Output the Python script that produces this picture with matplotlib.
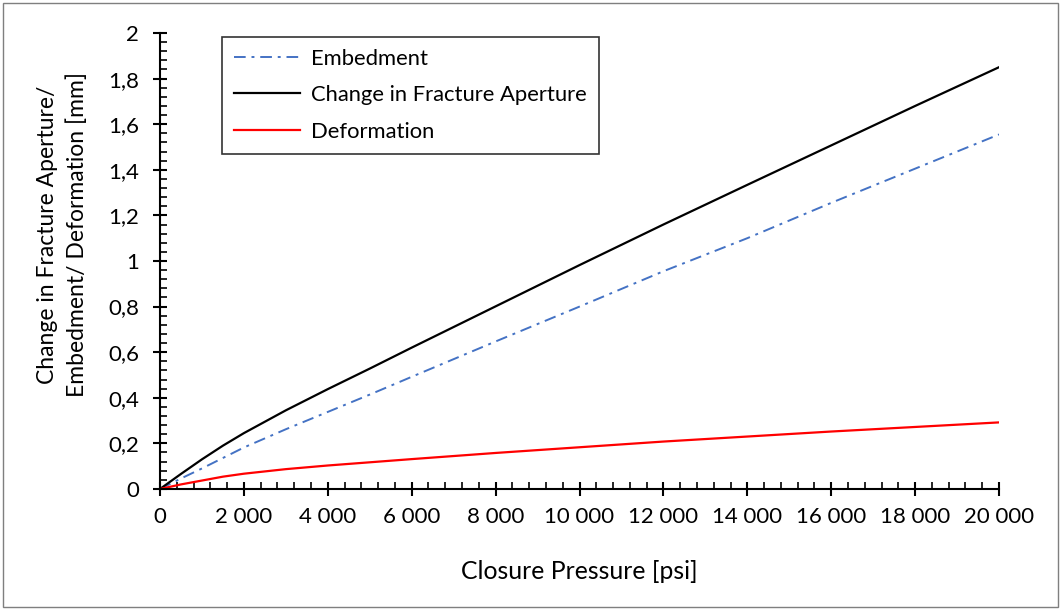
import matplotlib
matplotlib.use("Agg")
import matplotlib.pyplot as plt
from matplotlib.patches import Rectangle
from matplotlib.ticker import MultipleLocator, FuncFormatter

plt.rcParams['font.family'] = ['Lato', 'DejaVu Sans']

# closure pressure [psi]
pressure = [0, 500, 1000, 1500, 2000, 3000, 4000, 5000, 6000, 8000,
            10000, 12000, 14000, 16000, 18000, 20000]
# values [mm]
aperture = [0, 0.066, 0.13, 0.19, 0.245, 0.345, 0.438, 0.528, 0.62, 0.801,
            0.982, 1.16, 1.334, 1.507, 1.68, 1.85]
deformation = [0, 0.02, 0.037, 0.054, 0.067, 0.087, 0.103, 0.117, 0.131, 0.158,
               0.183, 0.208, 0.23, 0.252, 0.272, 0.292]
embedment = [0, 0.046, 0.09, 0.136, 0.182, 0.262, 0.338, 0.414, 0.492, 0.647,
             0.80, 0.955, 1.10, 1.255, 1.405, 1.555]

fig = plt.figure(figsize=(10.61, 6.10), dpi=100)
ax = fig.add_axes([0.1508, 0.1984, 0.7908, 0.7475])

ax.plot(pressure, embedment, color='#4472C4', lw=1.4, dashes=(6, 3, 1.5, 3),
        label='Embedment')
ax.plot(pressure, aperture, color='black', lw=1.6, label='Change in Fracture Aperture')
ax.plot(pressure, deformation, color='#FF0000', lw=1.6, label='Deformation')

ax.set_xlim(0, 20000)
ax.set_ylim(0, 2)
ax.xaxis.set_major_locator(MultipleLocator(2000))
ax.xaxis.set_minor_locator(MultipleLocator(400))
ax.yaxis.set_major_locator(MultipleLocator(0.2))
ax.yaxis.set_minor_locator(MultipleLocator(0.04))
ax.xaxis.set_major_formatter(FuncFormatter(lambda v, p: f"{int(round(v)):,}".replace(",", " ")))
ax.yaxis.set_major_formatter(FuncFormatter(lambda v, p: f"{round(v, 1):g}".replace(".", ",")))

for s in ['top', 'right']:
    ax.spines[s].set_visible(False)
for s in ['left', 'bottom']:
    ax.spines[s].set_linewidth(1.5)

ax.tick_params(which='major', direction='inout', length=10, width=1.5, labelsize=16)
ax.tick_params(axis='y', which='major', pad=10)
ax.tick_params(axis='x', which='major', pad=8)
ax.tick_params(which='minor', direction='in', length=5, width=1.2)

ax.set_xlabel('Closure Pressure [psi]', fontsize=17.8, labelpad=24)
ax.set_ylabel('Change in Fracture Aperture/\nEmbedment/ Deformation [mm]', fontsize=16.5,
              linespacing=1.45)
ax.yaxis.set_label_coords(-0.0858, 0.557)

leg = ax.legend(loc='upper left', bbox_to_anchor=(0.074, 0.992), fontsize=15.8,
                frameon=True, fancybox=False, edgecolor='black', handlelength=3.0,
                labelspacing=0.75, borderpad=0.55, handletextpad=0.5, borderaxespad=0)
leg.get_frame().set_linewidth(1.2)

fig.patches.append(Rectangle((0.003, 0.005), 0.994, 0.99, transform=fig.transFigure,
                             fill=False, edgecolor='#7f7f7f', lw=1))

fig.savefig('out.png', dpi=100)
